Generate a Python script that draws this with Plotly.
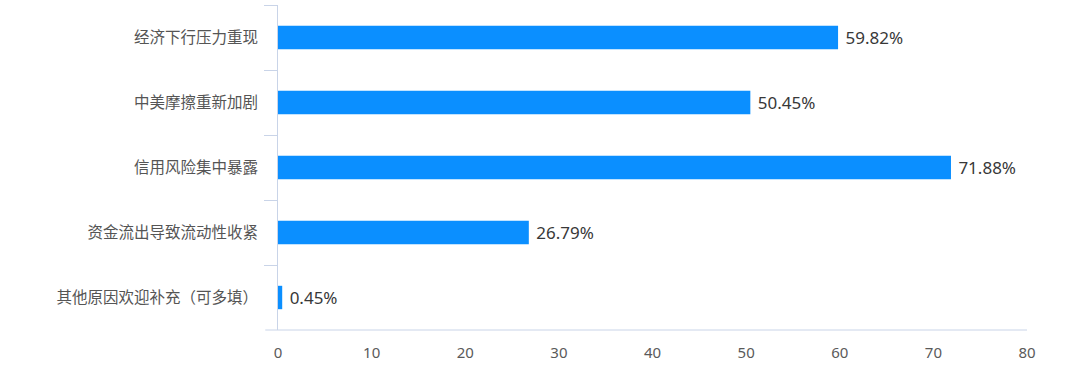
import plotly.graph_objects as go

categories = ["经济下行压力重现", "中美摩擦重新加剧", "信用风险集中暴露", "资金流出导致流动性收紧", "其他原因欢迎补充（可多填）"]
values = [59.82, 50.45, 71.88, 26.79, 0.45]
labels = ["59.82%", "50.45%", "71.88%", "26.79%", "0.45%"]
x_ticks = [0, 10, 20, 30, 40, 50, 60, 70, 80]

font_family = "Noto Sans CJK SC, Noto Sans, sans-serif"

fig = go.Figure(go.Bar(
    y=categories, x=values, orientation="h",
    marker=dict(color="#0b8fff", line=dict(width=0)),
    width=0.36,
    text=labels, texttemplate=" %{text}", textposition="outside", cliponaxis=False,
    textfont=dict(size=17, color="#383838", family="Noto Sans, sans-serif"),
    hoverinfo="skip",
))

fig.update_layout(
    width=1066, height=376,
    margin=dict(l=278, r=39, t=5, b=46),
    plot_bgcolor="white", paper_bgcolor="white",
    showlegend=False,
    font=dict(family=font_family),
    xaxis=dict(range=[0, 80], tickvals=x_ticks, showgrid=False, zeroline=False,
               showline=False, ticks="", ticklabelstandoff=12,
               tickfont=dict(size=15, color="#5a5a5a", family="Noto Sans, sans-serif")),
    yaxis=dict(autorange="reversed", showline=True, linecolor="#c9d4e8", linewidth=1,
               ticks="outside", tickson="boundaries", ticklen=13, tickcolor="#c9d4e8",
               showgrid=False, tickfont=dict(size=15.5, color="#555555"), ticklabelstandoff=16),
)
fig.add_shape(type="line", xref="paper", yref="paper", x0=-0.017, x1=1.0, y0=0, y1=0,
              line=dict(color="#c9d4e8", width=1))

fig.write_html("out.html", config={"displayModeBar": False},
               post_script="document.body.style.margin='0';document.body.style.overflow='hidden';")
